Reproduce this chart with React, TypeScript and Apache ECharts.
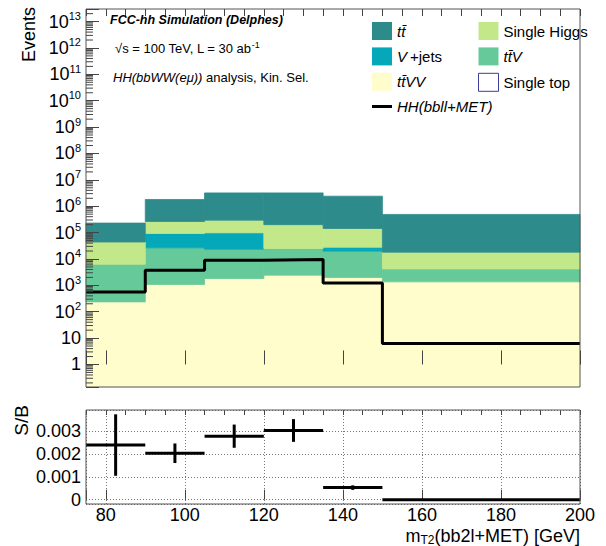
import { useEffect, useRef } from 'react';
import * as echarts from 'echarts';

const FONT = '"Liberation Sans", Arial, Helvetica, sans-serif';

// ---- data ----
const binEdges = [75, 90, 105, 120, 135, 150, 200];
const ttVV = [236, 1085, 1820, 2430, 1990, 1360];
const ttV = [6060, 25300, 21700, 22600, 17800, 2840];
const vJets = [0, 66600, 74500, 0, 8200, 0];
const singleTop = [0, 0, 0, 0, 0, 0];
const singleHiggs = [37700, 171000, 198000, 175000, 115000, 13900];
const ttbar = [186000, 1536000, 2904000, 3000000, 2257000, 471900];
const signal = [565, 3760, 9000, 9550, 1240, 6.25];
const sOverB = [0.0024, 0.00204, 0.00279, 0.00304, 0.00053, 0];
const sOverBErr = [0.00135, 0.00043, 0.00051, 0.0005, 0.0001, 0];
const xTickLabels = [80, 100, 120, 140, 160, 180, 200];
const ratioTickLabels = ['0', '0.001', '0.002', '0.003'];

const Y_MIN = 0.14;
const Y_MAX = 3e13;
const LOG_MIN = Math.log10(Y_MIN);
const LOG_MAX = Math.log10(Y_MAX);
const R_MIN = -0.00019;
const R_MAX = 0.00394;
const X_MIN = 75;
const X_MAX = 200;

const stackDefs = [
  { name: 'tt\u0304VV', values: ttVV, color: '#fffdcc' },
  { name: 'tt\u0304V', values: ttV, color: '#66c99a' },
  { name: 'V+jets', values: vJets, color: '#05a8b8' },
  { name: 'Single top', values: singleTop, color: '#ffffff' },
  { name: 'Single Higgs', values: singleHiggs, color: '#c3e88a' },
  { name: 'tt\u0304', values: ttbar, color: '#2e8b8b' },
];

// log-axis minor tick positions (2..9 x 10^d)
const logMinorTicks: number[][] = [];
for (let d = -1; d <= 13; d++) {
  for (let k = 2; k <= 9; k++) {
    const lv = Math.log10(k * Math.pow(10, d));
    if (lv > LOG_MIN && lv < LOG_MAX) logMinorTicks.push([lv]);
  }
}

function buildOption() {
  const cum = binEdges.slice(0, -1).map(() => 0);
  const stackSeries = stackDefs.map((def) => {
    const data = def.values.map((v, i) => {
      const base = cum[i] > 0 ? cum[i] : Y_MIN;
      const top = v > 0 ? cum[i] + v : base;
      cum[i] = cum[i] + v;
      return [binEdges[i], binEdges[i + 1], Math.log10(base), Math.log10(top)];
    });
    return {
      type: 'custom',
      name: def.name,
      xAxisIndex: 0,
      yAxisIndex: 0,
      z: 2,
      silent: true,
      itemStyle: { color: def.color },
      encode: { x: [0, 1], y: [2, 3] },
      data,
      renderItem: (params: any, api: any) => {
        const lo = api.value(2);
        const hi = api.value(3);
        if (!(hi > lo)) return null;
        const a = api.coord([api.value(0), hi]);
        const b = api.coord([api.value(1), lo]);
        return {
          type: 'rect',
          shape: { x: a[0], y: a[1], width: b[0] - a[0], height: b[1] - a[1] },
          style: { fill: def.color, stroke: def.color, lineWidth: 0.8 },
        };
      },
    };
  });

  const signalData = binEdges.map((x, i) => [x, Math.log10(signal[Math.min(i, signal.length - 1)])]);

  const ratioData = sOverB.map((v, i) => [binEdges[i], binEdges[i + 1], v, sOverBErr[i]]);

  const legendRich = {
    i: { fontStyle: 'italic', fontSize: 15, fontFamily: FONT, color: '#000' },
    n: { fontSize: 15, fontFamily: FONT, color: '#000' },
  };
  const legendFormatter = (name: string) => {
    if (name === 'V+jets') return '{i|V}{n|\u2009+jets}';
    if (name.startsWith('tt') || name.startsWith('HH')) return `{i|${name}}`;
    return `{n|${name}}`;
  };
  const legendCommon = {
    orient: 'vertical',
    itemWidth: 20,
    itemHeight: 18,
    itemGap: 7.4,
    padding: 0,
    selectedMode: false,
    textStyle: { fontSize: 15, fontFamily: FONT, color: '#000', rich: legendRich },
    formatter: legendFormatter,
  };

  const axisColor = '#444';

  return {
    animation: false,
    backgroundColor: '#fff',
    textStyle: { fontFamily: FONT },
    grid: [
      { left: 86, top: 9, width: 494, height: 378, show: true, z: 10, borderColor: '#555', borderWidth: 1, backgroundColor: 'transparent' },
      { left: 86, top: 410, width: 494, height: 94, show: true, z: 10, borderColor: '#555', borderWidth: 1, backgroundColor: 'transparent' },
    ],
    legend: [
      { ...legendCommon, left: 372, top: 22, data: [
        { name: 'tt\u0304', icon: 'rect' },
        { name: 'V+jets', icon: 'rect' },
        { name: 'tt\u0304VV', icon: 'rect' },
      ] },
      { ...legendCommon, left: 478, top: 22, data: [
        { name: 'Single Higgs', icon: 'rect' },
        { name: 'tt\u0304V', icon: 'rect' },
        { name: 'Single top', icon: 'rect', itemStyle: { color: '#ffffff', borderColor: '#3d3d99', borderWidth: 1 } },
      ] },
      { ...legendCommon, left: 372, top: 99, itemHeight: 3, data: [
        { name: 'HH(bbll+MET)', icon: 'rect', itemStyle: { color: '#000', borderWidth: 0 } },
      ] },
    ],
    xAxis: [
      {
        gridIndex: 0, type: 'value', min: X_MIN, max: X_MAX, splitNumber: 6, z: 10,
        axisLine: { show: false }, axisLabel: { show: false }, splitLine: { show: false },
        axisTick: { show: true, inside: true, length: 14, lineStyle: { color: axisColor } },
      },
      {
        gridIndex: 0, type: 'value', min: X_MIN, max: X_MAX, interval: 5, z: 10,
        axisLine: { show: false }, axisLabel: { show: false }, splitLine: { show: false },
        axisTick: { show: true, inside: true, length: 7, lineStyle: { color: axisColor } },
      },
      {
        gridIndex: 1, type: 'value', min: X_MIN, max: X_MAX, splitNumber: 6,
        axisLine: { show: false },
        axisLabel: {
          show: true, fontSize: 18, fontFamily: FONT, color: '#000', margin: 2,
          formatter: (v: number) => (xTickLabels.includes(v) ? String(v) : ''),
        },
        splitLine: { show: true, lineStyle: { color: '#777', type: [1, 2], width: 1 } },
        axisTick: { show: true, inside: true, length: 10, lineStyle: { color: axisColor } },
      },
      {
        gridIndex: 1, type: 'value', min: X_MIN, max: X_MAX, interval: 5,
        axisLine: { show: false }, axisLabel: { show: false }, splitLine: { show: false },
        axisTick: { show: true, inside: true, length: 5, lineStyle: { color: axisColor } },
      },
    ],
    yAxis: [
      {
        gridIndex: 0, type: 'value', min: LOG_MIN, max: LOG_MAX, splitNumber: 14, z: 10,
        axisLine: { show: false }, splitLine: { show: false },
        axisTick: { show: true, inside: true, length: 13, lineStyle: { color: axisColor } },
        axisLabel: {
          show: true, margin: 5, fontSize: 18, fontFamily: FONT, color: '#000',
          formatter: (v: number) => {
            const r = Math.round(v);
            if (Math.abs(v - r) > 1e-6) return '';
            if (r === 0) return '{b|1}';
            if (r === 1) return '{b|10}';
            return `{b|10}{s|${r}}`;
          },
          rich: {
            b: { fontSize: 18, fontFamily: FONT, color: '#000', lineHeight: 22 },
            s: { fontSize: 11, fontFamily: FONT, color: '#000', verticalAlign: 'top', lineHeight: 12 },
          },
        },
      },
      {
        gridIndex: 1, type: 'value', min: R_MIN, max: R_MAX, splitNumber: 4,
        axisLine: { show: false },
        axisTick: { show: false },
        splitLine: { show: true, lineStyle: { color: '#777', type: [1, 2], width: 1 } },
        axisLabel: {
          show: true, margin: 5, fontSize: 18, fontFamily: FONT, color: '#000',
          formatter: (v: number) => {
            const hit = ratioTickLabels.find((t) => Math.abs(Number(t) - v) < 1e-9);
            return hit ?? '';
          },
        },
      },
    ],
    series: [
      ...stackSeries,
      {
        type: 'custom',
        name: 'minorTicks',
        xAxisIndex: 0,
        yAxisIndex: 0,
        z: 11,
        silent: true,
        encode: { y: 0 },
        data: logMinorTicks,
        renderItem: (params: any, api: any) => {
          const p = api.coord([X_MIN, api.value(0)]);
          return {
            type: 'line',
            shape: { x1: p[0], y1: p[1], x2: p[0] + 7, y2: p[1] },
            style: { stroke: axisColor, lineWidth: 1 },
          };
        },
      },
      {
        type: 'line',
        name: 'HH(bbll+MET)',
        xAxisIndex: 0,
        yAxisIndex: 0,
        z: 5,
        step: 'end',
        symbol: 'none',
        silent: true,
        itemStyle: { color: '#000' },
        lineStyle: { color: '#000', width: 3 },
        data: signalData,
      },
      {
        type: 'custom',
        name: 'S/B',
        xAxisIndex: 2,
        yAxisIndex: 1,
        z: 5,
        silent: true,
        encode: { x: [0, 1], y: 2 },
        data: ratioData,
        renderItem: (params: any, api: any) => {
          const x0 = api.value(0);
          const x1 = api.value(1);
          const v = api.value(2);
          const e = api.value(3);
          const a = api.coord([x0, v]);
          const b = api.coord([x1, v]);
          const children: any[] = [
            { type: 'line', shape: { x1: a[0], y1: a[1], x2: b[0], y2: b[1] }, style: { stroke: '#000', lineWidth: 3 } },
          ];
          if (e > 0) {
            const xc = (x0 + x1) / 2;
            const t = api.coord([xc, v + e]);
            const u = api.coord([xc, v - e]);
            children.push({ type: 'line', shape: { x1: t[0], y1: t[1], x2: u[0], y2: u[1] }, style: { stroke: '#000', lineWidth: 3 } });
          }
          return { type: 'group', children };
        },
      },
    ],
    graphic: [
      {
        type: 'text', x: 110, y: 20, z: 20,
        style: { text: 'FCC-hh Simulation (Delphes)', fontSize: 12.5, fontWeight: 'bold', fontStyle: 'italic', fontFamily: FONT, fill: '#000', verticalAlign: 'middle' },
      },
      {
        type: 'text', x: 115, y: 48, z: 20,
        style: {
          text: '{n|\u221As = 100 TeV, L = 30 ab}{s|-1}', verticalAlign: 'middle', fill: '#000',
          rich: {
            n: { fontSize: 13, fontFamily: FONT, fill: '#000', lineHeight: 16 },
            s: { fontSize: 9, fontFamily: FONT, fill: '#000', verticalAlign: 'top', lineHeight: 10 },
          },
        },
      },
      {
        type: 'text', x: 113, y: 77, z: 20,
        style: {
          text: '{i|HH(bbWW(e\u03bc))}{n| analysis, Kin. Sel.}', verticalAlign: 'middle', fill: '#000',
          rich: {
            i: { fontSize: 13, fontStyle: 'italic', fontFamily: FONT, fill: '#000' },
            n: { fontSize: 13, fontFamily: FONT, fill: '#000' },
          },
        },
      },
      {
        type: 'text', x: 29, y: 7, rotation: Math.PI / 2, z: 20,
        style: { text: 'Events', fontSize: 18, fontFamily: FONT, fill: '#000', align: 'right', verticalAlign: 'middle' },
      },
      {
        type: 'text', x: 21, y: 405, rotation: Math.PI / 2, z: 20,
        style: { text: 'S/B', fontSize: 19, fontFamily: FONT, fill: '#000', align: 'right', verticalAlign: 'middle' },
      },
      {
        type: 'text', x: 580, y: 536, z: 20,
        style: {
          text: '{n|m}{sub|T2}{n|(bb2l+MET) [GeV]}', align: 'right', verticalAlign: 'middle', fill: '#000',
          rich: {
            n: { fontSize: 18, fontFamily: FONT, fill: '#000', lineHeight: 20 },
            sub: { fontSize: 12, fontFamily: FONT, fill: '#000', verticalAlign: 'bottom', lineHeight: 13 },
          },
        },
      },
    ],
  };
}

export default function App() {
  const ref = useRef<HTMLDivElement>(null);
  useEffect(() => {
    if (!ref.current) return;
    const chart = echarts.init(ref.current, null, { renderer: 'svg' });
    chart.setOption(buildOption() as any);
    return () => chart.dispose();
  }, []);
  return (
    <div
      ref={ref}
      style={{ position: 'fixed', left: 0, top: 0, width: 606, height: 546, background: '#fff' }}
    />
  );
}
